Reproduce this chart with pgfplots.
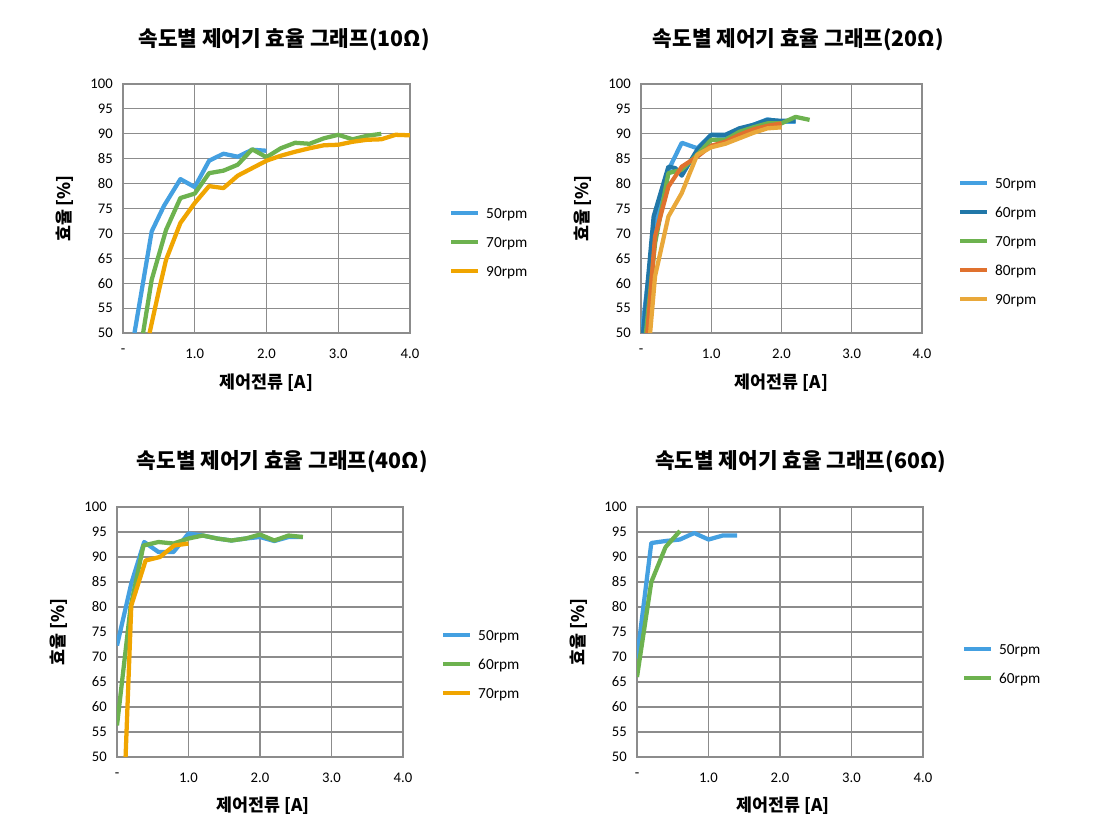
\documentclass[border=0pt]{standalone}
\usepackage{pgfplots}
\pgfplotsset{compat=1.18}
\usepackage{fontspec}
\setmainfont{Carlito}
\newfontfamily\kr{Noto Sans CJK KR}

\definecolor{cA}{HTML}{44A0E1}% 50rpm
\definecolor{cB}{HTML}{2177A8}% 60rpm
\definecolor{cC}{HTML}{6DB24F}% 70rpm
\definecolor{cD}{HTML}{E0712E}% 80rpm
\definecolor{cE}{HTML}{F0A500}% 90rpm (bright)
\definecolor{cF}{HTML}{E9A83A}% 90rpm (pale)
\definecolor{gridc}{HTML}{8C8C8C}

\pgfplotsset{
  panel/.style={
    scale only axis,
    xmin=0, xmax=4, ymin=50, ymax=100,
    xtick={0,1,2,3,4}, xticklabels={-,1.0,2.0,3.0,4.0},
    ytick={50,55,...,100},
    grid=major,
    major grid style={gridc, line width=0.8pt},
    axis line style={gridc, line width=0.8pt},
    major tick length=0pt,
    /pgf/number format/assume math mode=true,
    ticklabel style={font=\fontsize{11}{13}\selectfont, inner sep=0pt},
    yticklabel style={xshift=-7.5pt},
    xticklabel style={yshift=-11.5pt},
    title style={font=\kr\bfseries\fontsize{16}{18}\selectfont, anchor=center, yshift=0pt},
    xlabel={\kr\bfseries 제어전류 [A]},
    ylabel={\kr\bfseries 효율 [\%]},
    label style={font=\fontsize{13}{15}\selectfont},
    ylabel style={at={(axis description cs:-0.202,0.5)}, anchor=center, rotate=0},
    every axis plot/.append style={line width=3.2pt, line join=round, no markers},
    legend cell align=left,
    legend image code/.code={\draw[#1] (0pt,0pt)--(20pt,0pt);},
    legend style={draw=none, fill=none, inner sep=0pt, anchor=west,
      font=\fontsize{11.5}{13}\selectfont, row sep=14pt,
      nodes={inner sep=0pt, text height=7.75pt, text depth=0pt},
      /tikz/every odd column/.append style={column sep=4.5pt}},
  }
}

\begin{document}
\begin{tikzpicture}
\path[use as bounding box] (0pt,0pt) rectangle (827.25pt,-624.75pt);

% 10 ohm
\begin{axis}[panel, at={(92.25pt,-249.75pt)}, anchor=south west,
  width=215.25pt, height=186.75pt,
  title={속도별 제어기 효율 그래프(10Ω)},
  title style={at={(axis description cs:0.561,1.145)}},
  xlabel style={at={(axis description cs:0.5,-0.2)}, anchor=center},
  legend style={at={(axis description cs:1.136,0.365)}}]
\addplot[cA] coordinates {(0.16,50)(0.4,70.4)(0.57,75.5)(0.8,80.9)(1.0,79.3)(1.2,84.6)(1.4,86)(1.6,85.4)(1.8,86.8)(2.0,86.6)};
\addplot[cC] coordinates {(0.28,50)(0.4,60.7)(0.6,70.7)(0.8,77.1)(1.0,78)(1.2,82.1)(1.4,82.6)(1.6,83.8)(1.8,86.9)(2.0,85.3)(2.2,87.1)(2.4,88.2)(2.6,88)(2.8,89.1)(3.0,89.8)(3.2,88.9)(3.4,89.6)(3.6,90)};
\addplot[cE] coordinates {(0.37,50)(0.5,58.5)(0.6,64.7)(0.8,72.1)(1.0,76.1)(1.2,79.5)(1.4,79.1)(1.6,81.6)(1.8,83.1)(2.0,84.6)(2.2,85.6)(2.4,86.4)(2.6,87.1)(2.8,87.7)(3.0,87.8)(3.2,88.4)(3.4,88.8)(3.6,88.9)(3.8,89.8)(4.0,89.7)};
\legend{50rpm,70rpm,90rpm}
\end{axis}

% 20 ohm
\begin{axis}[panel, at={(480.75pt,-249.75pt)}, anchor=south west,
  width=210.75pt, height=186.75pt,
  title={속도별 제어기 효율 그래프(20Ω)},
  title style={at={(axis description cs:0.56,1.145)}},
  xlabel style={at={(axis description cs:0.5,-0.2)}, anchor=center},
  ylabel style={at={(axis description cs:-0.206,0.5)}},
  legend style={at={(axis description cs:1.128,0.369)}}]
\addplot[cA] coordinates {(0.01,50)(0.2,72)(0.4,83)(0.58,88.2)(0.8,87.1)(1.0,89.8)(1.2,89.4)(1.4,90.8)(1.6,91.8)(1.8,92.9)(2.0,92.4)(2.2,92.4)};
\addplot[cB] coordinates {(0.03,50)(0.18,73.4)(0.39,83.4)(0.49,83.1)(0.58,81.6)(0.8,86.8)(1.0,89.8)(1.2,89.8)(1.4,91.1)(1.6,91.8)(1.8,92.8)(2.0,92.6)(2.2,92.6)};
\addplot[cC] coordinates {(0.07,50)(0.2,68)(0.39,82.1)(0.58,82.8)(0.8,85.8)(1.0,88.8)(1.2,88.8)(1.4,90.4)(1.6,91.3)(1.8,92.1)(2.0,92.1)(2.2,93.4)(2.4,92.8)};
\addplot[cD] coordinates {(0.09,50)(0.2,69.4)(0.39,79.4)(0.58,83.4)(0.8,85.4)(1.0,87.6)(1.2,88.4)(1.4,89.8)(1.6,90.9)(1.8,91.6)(2.0,92.1)};
\addplot[cF] coordinates {(0.13,50)(0.2,61.4)(0.39,73.4)(0.58,78.1)(0.8,85.8)(1.0,87.3)(1.2,88)(1.4,89.1)(1.6,90.2)(1.8,91.1)(2.0,91.3)};
\legend{50rpm,60rpm,70rpm,80rpm,90rpm}
\end{axis}

% 40 ohm
\begin{axis}[panel, at={(87.75pt,-567.75pt)}, anchor=south west,
  width=214.5pt, height=187.5pt,
  title={속도별 제어기 효율 그래프(40Ω)},
  title style={at={(axis description cs:0.578,1.148)}},
  xlabel style={at={(axis description cs:0.51,-0.196)}, anchor=center},
  legend style={at={(axis description cs:1.133,0.372)}}]
\addplot[cA] coordinates {(0,72.3)(0.2,84.7)(0.38,93)(0.58,91)(0.79,91)(1.0,94.7)(1.2,94.3)(1.4,93.7)(1.6,93.3)(1.8,93.7)(2.0,94)(2.2,93.2)(2.4,94)(2.6,94)};
\addplot[cC] coordinates {(0,56.3)(0.19,80)(0.37,92.3)(0.58,93)(0.79,92.7)(1.0,93.7)(1.2,94.3)(1.4,93.7)(1.6,93.3)(1.8,93.7)(2.0,94.5)(2.2,93.3)(2.4,94.3)(2.6,94)};
\addplot[cE] coordinates {(0.12,50)(0.2,80.3)(0.4,89.3)(0.6,90)(0.8,92.3)(1.0,92.7)};
\legend{50rpm,60rpm,70rpm}
\end{axis}

% 60 ohm
\begin{axis}[panel, at={(477.75pt,-567.75pt)}, anchor=south west,
  width=214.5pt, height=187.5pt,
  title={속도별 제어기 효율 그래프(60Ω)},
  title style={at={(axis description cs:0.572,1.148)}},
  xlabel style={at={(axis description cs:0.51,-0.196)}, anchor=center},
  legend style={at={(axis description cs:1.136,0.374)}}]
\addplot[cA] coordinates {(0,69.7)(0.2,92.8)(0.4,93.2)(0.6,93.5)(0.8,94.8)(1.0,93.5)(1.2,94.3)(1.4,94.3)};
\addplot[cC] coordinates {(0,66)(0.2,85)(0.4,92)(0.6,95.2)};
\legend{50rpm,60rpm}
\end{axis}
\end{tikzpicture}
\end{document}
